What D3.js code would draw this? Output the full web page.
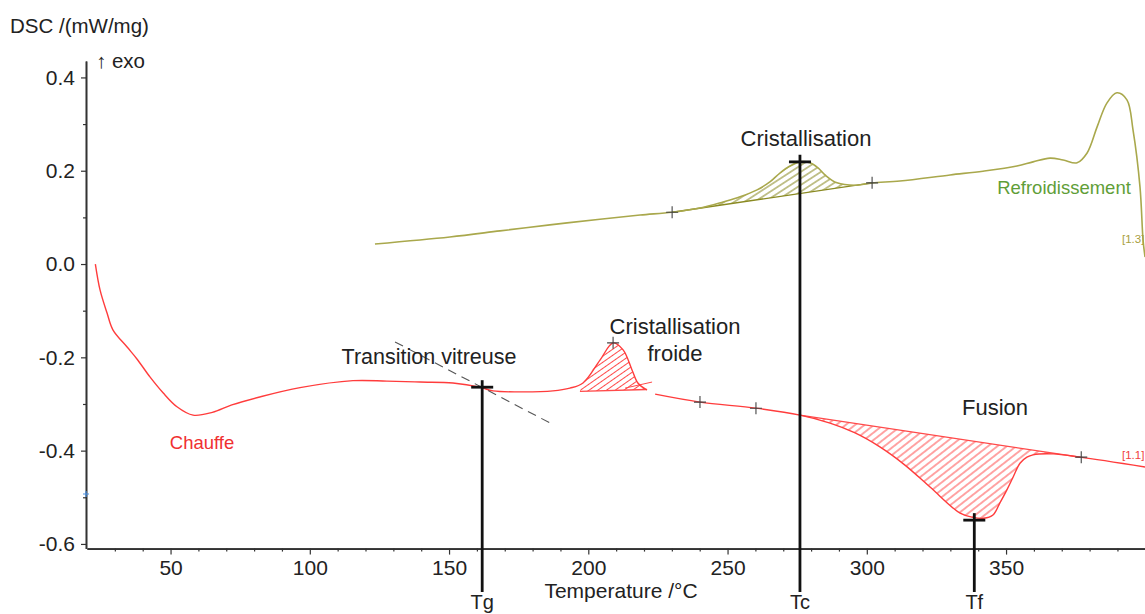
<!DOCTYPE html>
<html><head><meta charset="utf-8">
<script src="https://cdn.jsdelivr.net/npm/d3@7/dist/d3.min.js"></script>
<style>
body{margin:0;background:#fff}
svg{display:block;font-family:"Liberation Sans",Arial,Helvetica,sans-serif}
</style>
</head><body>
<svg id="chart" width="1145" height="614"></svg>
<script>
// ---- data ----
const heatT1 = [23, 24.7, 27.2, 29.3, 34.4, 38.0, 42.6, 47.3, 52.3, 58.1, 65.0, 72.0, 82.0, 96.5, 115.5, 127.7, 139.6, 151.4, 161.1, 165.8, 175.5, 187.3, 193.4, 198.1, 204.2, 208.9, 212.5, 215.7, 217.8, 221.1];
const heatV1 = [0, -0.056, -0.105, -0.141, -0.178, -0.204, -0.242, -0.276, -0.306, -0.324, -0.318, -0.302, -0.285, -0.265, -0.250, -0.251, -0.253, -0.255, -0.264, -0.272, -0.274, -0.272, -0.266, -0.255, -0.206, -0.169, -0.184, -0.227, -0.255, -0.270];
const heatT2 = [224.0, 240.1, 260.2, 276.0, 286.8, 295.8, 304.7, 313.7, 322.7, 333.5, 338.1, 342.0, 345.3, 347.8, 350.3, 352.6, 355.0, 357.5, 359.7, 366.9, 376.6, 399.9];
const heatV2 = [-0.279, -0.296, -0.309, -0.324, -0.341, -0.362, -0.392, -0.431, -0.478, -0.534, -0.543, -0.545, -0.538, -0.512, -0.484, -0.456, -0.427, -0.414, -0.409, -0.407, -0.414, -0.435];
const coolT = [123.4, 150.3, 168.3, 186.2, 204.2, 218.6, 230.1, 240.1, 248.4, 254.5, 260.6, 265.2, 268.8, 272.4, 276.0, 279.6, 282.5, 285.0, 289.3, 296.5, 301.9, 311.9, 329.9, 341.7, 353.9, 359.7, 365.8, 370.5, 375.5, 379.1, 382.7, 386.2, 389.8, 393.4, 395.6, 398.1, 399.2, 399.9];
const coolV = [0.043, 0.058, 0.071, 0.084, 0.096, 0.105, 0.111, 0.120, 0.133, 0.144, 0.159, 0.176, 0.195, 0.210, 0.219, 0.217, 0.206, 0.191, 0.174, 0.169, 0.174, 0.178, 0.191, 0.199, 0.210, 0.219, 0.227, 0.223, 0.217, 0.238, 0.294, 0.345, 0.367, 0.352, 0.287, 0.165, 0.051, 0.015];

// peak baselines (start/end T and V)
const coldBaseT = [197.0, 221.0], coldBaseV = [-0.273, -0.269];
const meltBaseT = [276.0, 376.6], meltBaseV = [-0.324, -0.414];
const crystBaseT = [230.1, 301.9], crystBaseV = [0.111, 0.174];

// Tg tangent (dashed)
const tangentT = [130.6, 187.0], tangentV = [-0.167, -0.343];

// evaluation points ("+")
const crossT = [230.1, 301.9, 208.9, 240.1, 260.2, 377.0];
const crossV = [0.111, 0.174, -0.169, -0.296, -0.309, -0.414];

// characteristic temperatures
const markerNames = ["Tg", "Tc", "Tf"];
const markerT = [161.9, 276.0, 338.6];
const markerV = [-0.264, 0.219, -0.549];

// axes
const xTicks = [50, 100, 150, 200, 250, 300, 350];
const xTickLabels = ["50", "100", "150", "200", "250", "300", "350"];
const xMinor = [30, 40, 60, 70, 80, 90, 110, 120, 130, 140, 160, 170, 180, 190, 210, 220, 230, 240, 260, 270, 280, 290, 310, 320, 330, 340, 360, 370, 380, 390];
const yTicks = [0.4, 0.2, 0.0, -0.2, -0.4, -0.6];
const yTickLabels = ["0.4", "0.2", "0.0", "-0.2", "-0.4", "-0.6"];
const yMinor = [0.3, 0.1, -0.1, -0.3, -0.5];

// ---- drawing ----
const svg = d3.select("#chart");
svg.append("rect").attr("width", 1145).attr("height", 614).attr("fill", "#fff");

const x = d3.scaleLinear().domain([20, 400]).range([87, 1145.3]);
const y = d3.scaleLinear().domain([-0.61, 0.435]).range([548.6, 61.1]);

const RED = "#ff3c3c", RED_H = "#ff4a4a";
const OLIVE = "#a9a84c", OLIVE_H = "#8a8a22";

const defs = svg.append("defs");
function hatch(id, color, sp, ang) {
  const p = defs.append("pattern").attr("id", id)
    .attr("patternUnits", "userSpaceOnUse")
    .attr("width", 12).attr("height", sp)
    .attr("patternTransform", `rotate(${ang})`);
  p.append("line").attr("x1", 0).attr("x2", 12).attr("y1", sp / 2).attr("y2", sp / 2)
    .attr("stroke", color).attr("stroke-width", 1);
}
hatch("hRed", RED_H, 5.8, -38);
hatch("hOlive", OLIVE_H, 5.5, -33);
hatch("hRed2", RED_H, 5.0, -35);

const line = d3.line().x(d => x(d[0])).y(d => y(d[1])).curve(d3.curveCatmullRom.alpha(0.5));
const zip = (a, b) => a.map((v, i) => [v, b[i]]);

const heat1 = zip(heatT1, heatV1), heat2 = zip(heatT2, heatV2), cool = zip(coolT, coolV);

function peakArea(pts, bT, bV, fill, stroke) {
  const inner = pts.filter(p => p[0] > bT[0] && p[0] < bT[1]);
  const poly = [[bT[0], bV[0]], ...inner, [bT[1], bV[1]]];
  const d = line(poly) + "L" + x(bT[0]) + "," + y(bV[0]) + "Z";
  svg.append("path").attr("d", d).attr("fill", fill).attr("stroke", "none");
  svg.append("path").attr("d", line(zip(bT, bV))).attr("fill", "none").attr("stroke", stroke).attr("stroke-width", 1.3);
}

// axes
const axG = svg.append("g").attr("class", "axes");
const xAxis = d3.axisBottom(x).tickValues(xTicks).tickFormat((d, i) => xTickLabels[i]).tickSize(6).tickSizeOuter(0).tickPadding(5);
const xAxisMinor = d3.axisBottom(x).tickValues(xMinor).tickFormat("").tickSize(3).tickSizeOuter(0);
const yAxis = d3.axisLeft(y).tickValues(yTicks).tickFormat((d, i) => yTickLabels[i]).tickSize(5).tickSizeOuter(0).tickPadding(6);
const yAxisMinor = d3.axisLeft(y).tickValues(yMinor).tickFormat("").tickSize(3).tickSizeOuter(0);

axG.append("g").attr("transform", `translate(0,${y(-0.61)})`).call(xAxis);
axG.append("g").attr("transform", `translate(0,${y(-0.61)})`).call(xAxisMinor);
axG.append("g").attr("transform", `translate(${x(20) - 1},0)`).call(yAxis);
axG.append("g").attr("transform", `translate(${x(20) - 1},0)`).call(yAxisMinor);
axG.selectAll("path.domain").attr("stroke", "#333").attr("stroke-width", 1.6);
axG.selectAll(".tick line").attr("stroke", "#333").attr("stroke-width", 1.2);
axG.selectAll(".tick text").attr("font-size", 21).attr("fill", "#222").attr("font-family", '"Liberation Sans",Arial,sans-serif');

// hatched peak areas
peakArea(cool, crystBaseT, crystBaseV, "url(#hOlive)", OLIVE_H);
peakArea(heat1, coldBaseT, coldBaseV, "url(#hRed2)", RED_H);
peakArea(heat2, meltBaseT, meltBaseV, "url(#hRed)", RED_H);

// extra construction line near cold crystallisation
svg.append("path").attr("d", line([[213.2, -0.266], [222.9, -0.253]])).attr("stroke", RED_H).attr("stroke-width", 1).attr("fill", "none");

// curves
svg.append("path").attr("d", line(cool)).attr("fill", "none").attr("stroke", OLIVE).attr("stroke-width", 1.6);
svg.append("path").attr("d", line(heat1)).attr("fill", "none").attr("stroke", RED).attr("stroke-width", 1.4);
svg.append("path").attr("d", line(heat2)).attr("fill", "none").attr("stroke", RED).attr("stroke-width", 1.4);

// dashed tangent at Tg
svg.append("path").attr("d", line(zip(tangentT, tangentV))).attr("fill", "none")
  .attr("stroke", "#555").attr("stroke-width", 1.1).attr("stroke-dasharray", "9,6");

// "+" evaluation markers
crossT.forEach((t, i) => {
  const cx = x(t), cy = y(crossV[i]);
  svg.append("path").attr("d", `M${cx - 6},${cy}H${cx + 6}M${cx},${cy - 6}V${cy + 6}`)
    .attr("stroke", "#444").attr("stroke-width", 1.1).attr("fill", "none");
});

// blue point on y axis
{
  const cx = x(20) - 1, cy = y(-0.493);
  svg.append("path").attr("d", `M${cx - 3},${cy}H${cx + 3}M${cx},${cy - 3}V${cy + 3}`)
    .attr("stroke", "#4a90e2").attr("stroke-width", 1.2);
}

// characteristic temperature markers
const bottomY = 592;
markerT.forEach((t, i) => {
  const cx = x(t), cy = y(markerV[i]);
  svg.append("line").attr("x1", cx).attr("x2", cx).attr("y1", cy - 7).attr("y2", bottomY)
    .attr("stroke", "#111").attr("stroke-width", 2.8);
  svg.append("line").attr("x1", cx - 11).attr("x2", cx + 11).attr("y1", cy).attr("y2", cy)
    .attr("stroke", "#111").attr("stroke-width", 2.8);
  svg.append("text").attr("x", cx).attr("y", 609).attr("text-anchor", "middle")
    .attr("font-size", 20).attr("fill", "#222").text(markerNames[i]);
});

// texts
const T = (tx, ty, s, opts = {}) => svg.append("text").attr("x", tx).attr("y", ty)
  .attr("font-size", opts.size || 21).attr("fill", opts.color || "#222")
  .attr("text-anchor", opts.anchor || "start").text(s);

T(10, 33, "DSC /(mW/mg)", {size: 20.5});
T(96, 68, "\u2191 exo", {size: 20.5});
T(621, 598, "Temperature /\u00B0C", {size: 21, anchor: "middle"});
T(806, 146, "Cristallisation", {size: 22, anchor: "middle"});
T(675, 334, "Cristallisation", {size: 22, anchor: "middle"});
T(675, 361, "froide", {size: 22, anchor: "middle"});
T(429, 364, "Transition vitreuse", {size: 21.5, anchor: "middle"});
T(995, 415, "Fusion", {size: 22, anchor: "middle"});
T(202, 449, "Chauffe", {size: 18.5, anchor: "middle", color: "#f03030"});
T(1064, 194, "Refroidissement", {size: 18.5, anchor: "middle", color: "#5f9e38"});
T(1122, 243, "[1.3]", {size: 11.5, color: "#a8a040"});
T(1122, 459, "[1.1]", {size: 11.5, color: "#f04040"});
</script>
</body></html>
